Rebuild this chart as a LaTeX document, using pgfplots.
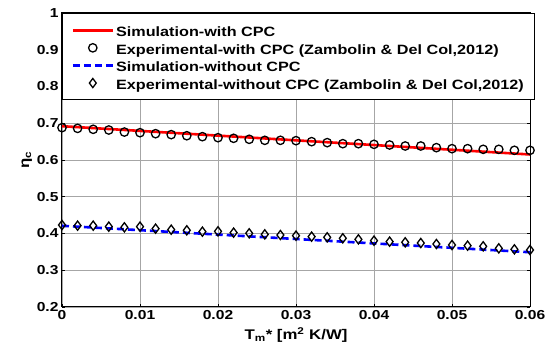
\documentclass[border=0pt]{standalone}
\usepackage{fontspec}
\setmainfont{Liberation Sans}[FakeStretch=1.2]
\usepackage{pgfplots}
\pgfplotsset{compat=1.18}
\pgfplotsset{
  longline legend/.style={legend image code/.code={\draw[##1] (0pt,0pt) -- (40pt,0pt);}},
  longmark legend/.style={legend image code/.code={\draw[mark repeat=2,mark phase=2,##1] plot coordinates {(0pt,0pt) (20pt,0pt) (40pt,0pt)};}},
}
\begin{document}
\begin{tikzpicture}
\begin{axis}[
  scale only axis, width=468pt, height=294pt,
  xmin=0, xmax=0.06, ymin=0.2, ymax=1,
  xtick={0,0.01,0.02,0.03,0.04,0.05,0.06},
  ytick={0.2,0.3,0.4,0.5,0.6,0.7,0.8,0.9,1},
  scaled x ticks=false,
  xticklabel style={/pgf/number format/.cd, fixed, precision=2},
  yticklabel style={/pgf/number format/.cd, fixed, precision=1},
  /pgf/number format/assume math mode=true,
  ticklabel style={font=\bfseries\fontsize{13}{13}\selectfont},
  tick align=inside, xtick pos=both, ytick pos=both,
  major tick length=3pt,
  tick style={black, line width=0.6pt},
  grid=major, grid style={gray!70, line width=0.6pt},
  axis line style={black, line width=1pt},
  xlabel={T\textsubscript{m}* [m\textsuperscript{2} K/W]},
  ylabel={η\textsubscript{c}},
  label style={font=\bfseries\fontsize{14}{14}\selectfont},
  xlabel style={yshift=-1pt},
  ylabel style={yshift=-2pt},
  legend style={at={(0,1)}, anchor=north west, draw=black, fill=white,
    line width=1pt, font=\bfseries\fontsize{13.5}{13.5}\selectfont,
    row sep=-1.9pt, inner xsep=9pt, inner ysep=7pt,
    cells={inner sep=1pt, text height=14pt, text depth=5pt}},
  legend cell align=left,
]
\addplot[red, line width=2.6pt, longline legend]
  coordinates {(0,0.692) (0.06,0.615)};
\addlegendentry{Simulation-with CPC}
\addplot[only marks, mark=o, mark size=4.2pt, black, line width=1.3pt, longmark legend]
  coordinates {
  (0,0.688) (0.002,0.686) (0.004,0.6835) (0.006,0.6816) (0.008,0.676)
  (0.010,0.6743) (0.012,0.6716) (0.014,0.669) (0.016,0.666) (0.018,0.6635)
  (0.020,0.6607) (0.022,0.659) (0.024,0.6563) (0.026,0.6535) (0.028,0.6535)
  (0.030,0.6526) (0.032,0.6499) (0.034,0.6472) (0.036,0.6444) (0.038,0.6444)
  (0.040,0.6426) (0.042,0.6408) (0.044,0.6381) (0.046,0.6381) (0.048,0.6336)
  (0.050,0.6308) (0.052,0.6308) (0.054,0.629) (0.056,0.629) (0.058,0.6263)
  (0.060,0.6263)};
\addlegendentry{Experimental-with CPC (Zambolin \& Del Col,2012)}
\addplot[blue, line width=2.6pt, dash pattern=on 7pt off 4pt, longline legend]
  coordinates {(0,0.421) (0.06,0.349)};
\addlegendentry{Simulation-without CPC}
\addplot[only marks, mark=diamond, mark size=4.6pt, black, line width=1.3pt, longmark legend]
  coordinates {
  (0,0.4231) (0.002,0.4213) (0.004,0.4213) (0.006,0.4186) (0.008,0.4168)
  (0.010,0.4186) (0.012,0.4131) (0.014,0.4104) (0.016,0.4086) (0.018,0.405)
  (0.020,0.4059) (0.022,0.4023) (0.024,0.4005) (0.026,0.3977) (0.028,0.3959)
  (0.030,0.3941) (0.032,0.3914) (0.034,0.3896) (0.036,0.3869) (0.038,0.3841)
  (0.040,0.3805) (0.042,0.3778) (0.044,0.376) (0.046,0.3741) (0.048,0.3714)
  (0.050,0.3687) (0.052,0.3669) (0.054,0.3651) (0.056,0.3596) (0.058,0.3569)
  (0.060,0.3551)};
\addlegendentry{Experimental-without CPC (Zambolin \& Del Col,2012)}
\end{axis}
\pgfresetboundingbox
\path ([shift={(-62pt,-49pt)}]current axis.south west) rectangle ([shift={(17pt,13pt)}]current axis.north east);
\end{tikzpicture}
\end{document}
